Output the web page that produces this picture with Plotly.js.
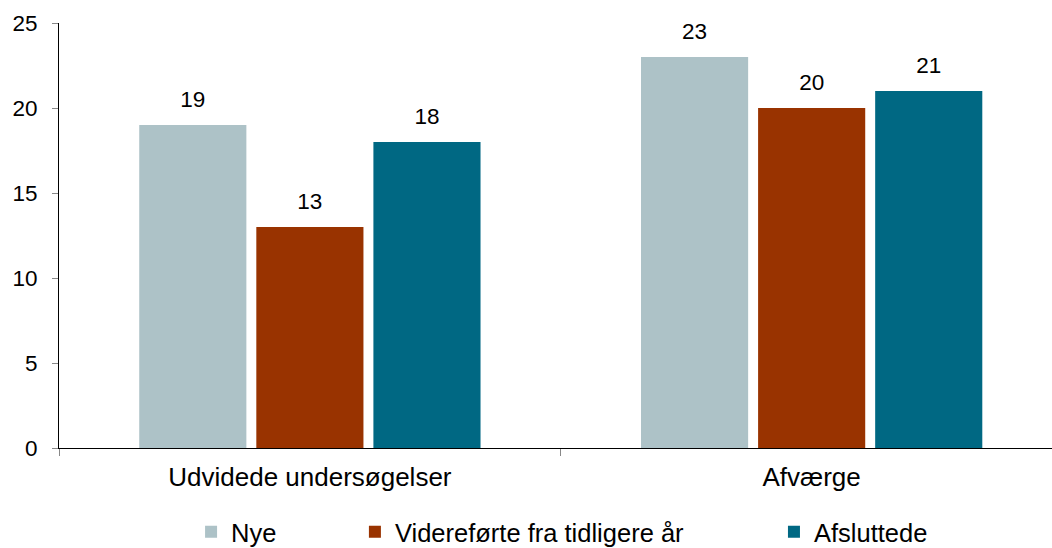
<!DOCTYPE html>
<html>
<head>
<meta charset="utf-8">
<script src="https://cdn.plot.ly/plotly-3.0.1.min.js"></script>
<style>
  html, body { margin: 0; padding: 0; background: #fff; }
  #chart { width: 1052px; height: 548px; }
</style>
</head>
<body>
<div id="chart"></div>
<script>
// categories and series
var categories = ['Udvidede undersøgelser', 'Afværge'];
var seriesNames = ['Nye', 'Videreførte fra tidligere år', 'Afsluttede'];
var nye = [19, 23];
var viderefoerte = [13, 20];
var afsluttede = [18, 21];

var colors = ['#adc2c7', '#993300', '#006883'];
var values = [nye, viderefoerte, afsluttede];
var legendIds = ['legend', 'legend2', 'legend3'];

var font = 'Liberation Sans, Arial, Helvetica, sans-serif';

var data = [];
// bars
values.forEach(function (v, i) {
    data.push({
        type: 'bar',
        x: categories,
        y: v,
        name: seriesNames[i],
        marker: {color: colors[i], line: {width: 0}},
        legend: legendIds[i],
        hoverinfo: 'none'
    });
});
// value labels, grouped the same way as the bars (invisible markers push the text up)
values.forEach(function (v, i) {
    data.push({
        type: 'scatter',
        mode: 'markers+text',
        x: categories,
        y: v,
        text: v.map(String),
        textposition: 'top center',
        textfont: {family: font, size: 22.5, color: '#000'},
        marker: {size: 18, color: 'rgba(0,0,0,0)', line: {width: 0}},
        showlegend: false,
        cliponaxis: false,
        hoverinfo: 'none'
    });
});

var legendBase = {
    orientation: 'h',
    yref: 'container',
    yanchor: 'middle',
    y: 0.029,
    xanchor: 'left',
    bgcolor: 'rgba(0,0,0,0)',
    font: {family: font, size: 25.5, color: '#000'},
    itemwidth: 30
};

var layout = {
    width: 1052,
    height: 548,
    margin: {l: 59, r: 0, t: 23, b: 100},
    paper_bgcolor: '#fff',
    plot_bgcolor: '#fff',
    font: {family: font, color: '#000'},
    barmode: 'group',
    bargap: 0.30,
    bargroupgap: 0.085,
    scattermode: 'group',
    scattergap: 0.30,
    xaxis: {
        type: 'category',
        range: [-0.5, 1.479],
        tickson: 'boundaries',
        ticks: 'outside',
        ticklen: 7,
        tickcolor: '#888',
        showline: true,
        linecolor: '#000',
        linewidth: 1,
        showgrid: false,
        zeroline: false,
        ticklabelstandoff: 6,
        tickfont: {family: font, size: 26, color: '#000'}
    },
    yaxis: {
        range: [0, 25],
        dtick: 5,
        ticks: 'outside',
        ticklen: 6,
        tickcolor: '#888',
        showline: true,
        linecolor: '#000',
        linewidth: 1,
        showgrid: false,
        zeroline: false,
        ticklabelstandoff: 10,
        tickfont: {family: font, size: 22.5, color: '#000'}
    },
    legend: Object.assign({}, legendBase, {x: 0.133}),
    legend2: Object.assign({}, legendBase, {x: 0.298}),
    legend3: Object.assign({}, legendBase, {x: 0.720})
};

Plotly.newPlot('chart', data, layout, {displayModeBar: false, staticPlot: true});
</script>
</body>
</html>
